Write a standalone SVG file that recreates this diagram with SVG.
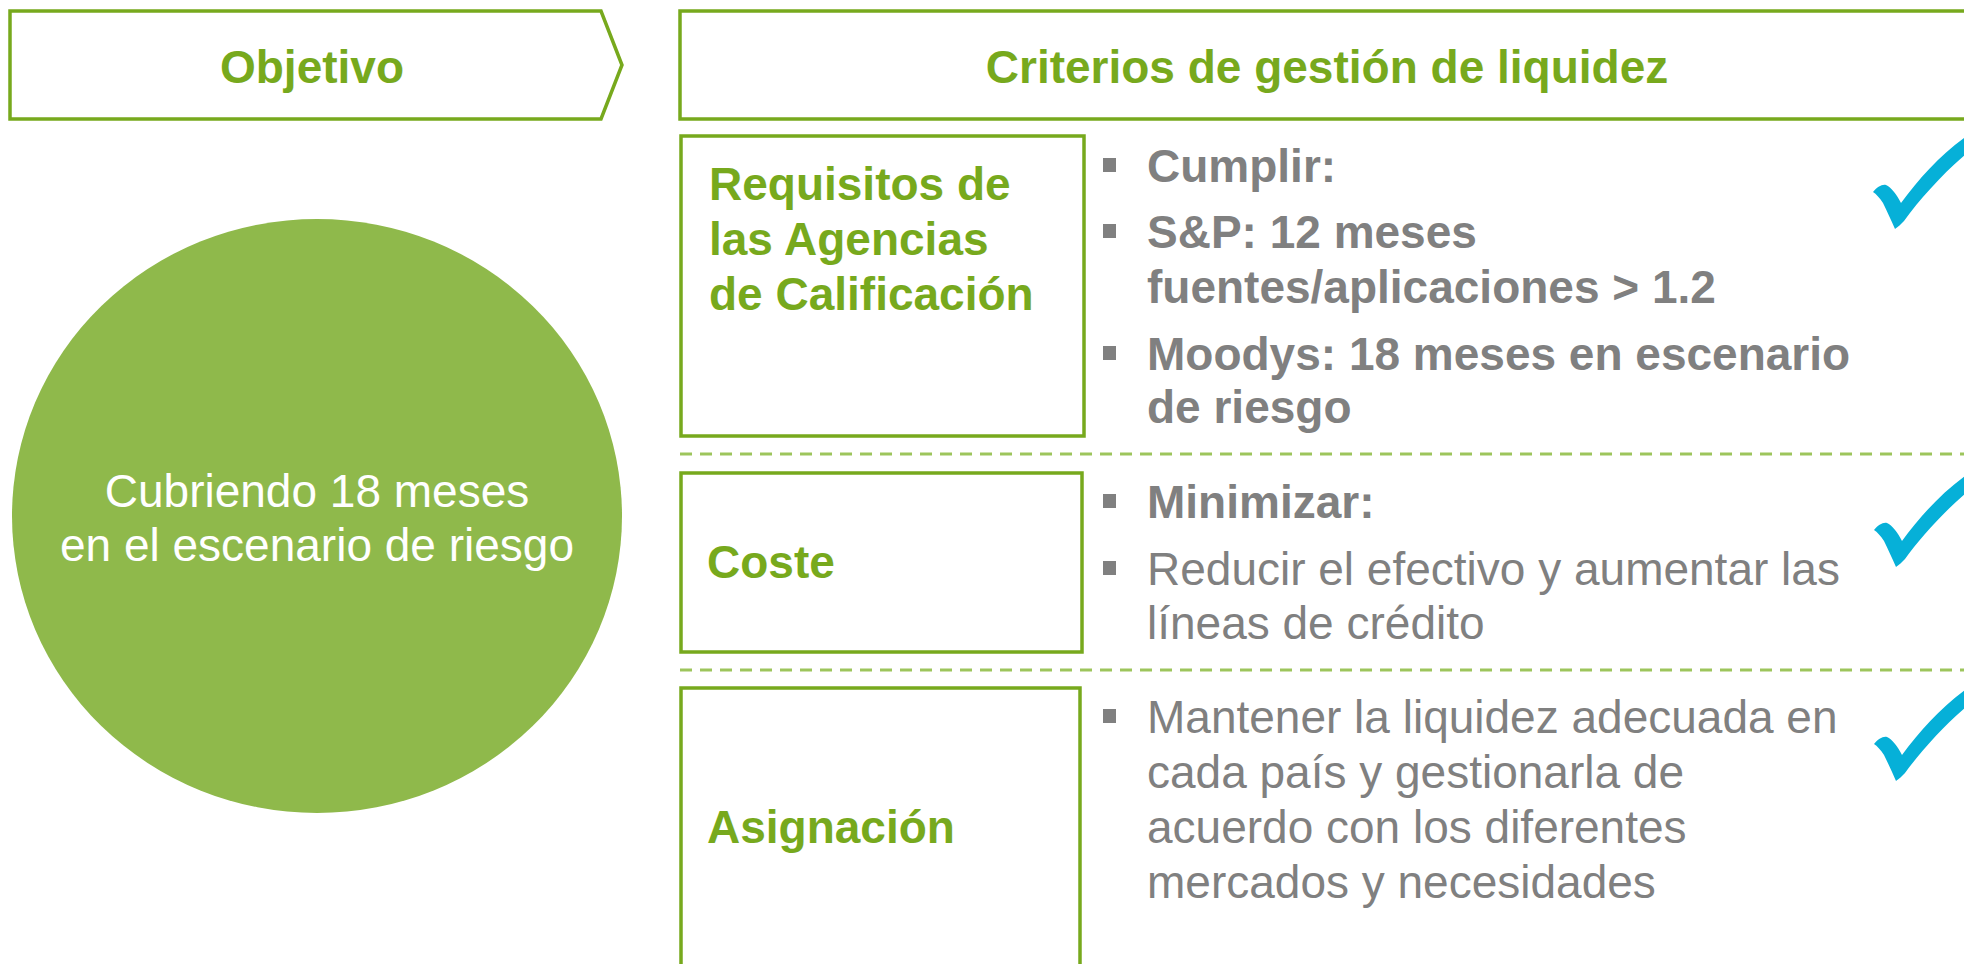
<svg xmlns="http://www.w3.org/2000/svg" width="1964" height="964" viewBox="0 0 1964 964">
<defs>
<style>
.box{fill:#fff;stroke:#77A91D;stroke-width:3.5}
.ttl{font-family:"Liberation Sans",Arial,sans-serif;font-size:46px;font-weight:bold;fill:#77A91D}
.lbl{font-family:"Liberation Sans",Arial,sans-serif;font-size:46px;font-weight:bold;fill:#77A91D}
.bb{font-family:"Liberation Sans",Arial,sans-serif;font-size:46px;font-weight:bold;fill:#808080}
.br{font-family:"Liberation Sans",Arial,sans-serif;font-size:46px;fill:#808080}
.circ{font-family:"Liberation Sans",Arial,sans-serif;font-size:46px;fill:#fff}
.dash{stroke:#9DC55C;stroke-width:3;stroke-dasharray:12 8;fill:none}
.bul{fill:#808080}
.chk{fill:#06B0D8}
</style>
<path id="check" d="M0,0 C-4,-9 -8,-18 -12,-26 C-15,-31 -19,-35 -22,-37 C-18,-42 -13,-45 -9,-44 C-4,-42 2,-34 6,-26 C25,-52 48,-77 76,-96 L76,-79 C50,-58 25,-30 9,-8 C6,-5 3,-2 0,0 Z"/>
</defs>
<rect width="1964" height="964" fill="#fff"/>

<g id="objetivo">
<polygon class="box" points="10,11 601,11 622,65 601,119 10,119"/>
<text class="ttl" x="312" y="83" text-anchor="middle">Objetivo</text>
</g>

<g id="criterios">
<rect class="box" x="680" y="11" width="1300" height="108"/>
<text class="ttl" x="1327" y="83" text-anchor="middle">Criterios de gestión de liquidez</text>
</g>

<g id="cubriendo">
<ellipse cx="317" cy="516" rx="305" ry="297" fill="#8FB94B"/>
<text class="circ" x="317" y="507" text-anchor="middle">Cubriendo 18 meses</text>
<text class="circ" x="317" y="561" text-anchor="middle">en el escenario de riesgo</text>
</g>

<g id="connectors">
<line class="dash" x1="680" y1="454" x2="1964" y2="454"/>
<line class="dash" x1="680" y1="670" x2="1964" y2="670"/>
</g>

<g id="requisitos">
<rect class="box" x="681" y="136" width="403" height="300"/>
<text class="lbl" x="709" y="200">Requisitos de</text>
<text class="lbl" x="709" y="255">las Agencias</text>
<text class="lbl" x="709" y="310">de Calificación</text>
</g>
<g id="requisitos-items">
<rect class="bul" x="1103" y="158" width="13" height="14"/>
<text class="bb" x="1147" y="182">Cumplir:</text>
<rect class="bul" x="1103" y="224" width="13" height="14"/>
<text class="bb" x="1147" y="248">S&amp;P: 12 meses</text>
<text class="bb" x="1147" y="303">fuentes/aplicaciones &gt; 1.2</text>
<rect class="bul" x="1103" y="346" width="13" height="14"/>
<text class="bb" x="1147" y="370">Moodys: 18 meses en escenario</text>
<text class="bb" x="1147" y="423">de riesgo</text>
<use href="#check" class="chk" x="1895" y="229"/>
</g>

<g id="coste">
<rect class="box" x="681" y="473" width="401" height="179"/>
<text class="lbl" x="707" y="578">Coste</text>
</g>
<g id="coste-items">
<rect class="bul" x="1103" y="494" width="13" height="14"/>
<text class="bb" x="1147" y="518">Minimizar:</text>
<rect class="bul" x="1103" y="561" width="13" height="14"/>
<text class="br" x="1147" y="585">Reducir el efectivo y aumentar las</text>
<text class="br" x="1147" y="639">líneas de crédito</text>
<use href="#check" class="chk" x="1896" y="567"/>
</g>

<g id="asignacion">
<rect class="box" x="681" y="688" width="399" height="320"/>
<text class="lbl" x="707" y="843">Asignación</text>
</g>
<g id="asignacion-items">
<rect class="bul" x="1103" y="709" width="13" height="14"/>
<text class="br" x="1147" y="733">Mantener la liquidez adecuada en</text>
<text class="br" x="1147" y="788">cada país y gestionarla de</text>
<text class="br" x="1147" y="843">acuerdo con los diferentes</text>
<text class="br" x="1147" y="898">mercados y necesidades</text>
<use href="#check" class="chk" x="1896" y="781"/>
</g>
</svg>
